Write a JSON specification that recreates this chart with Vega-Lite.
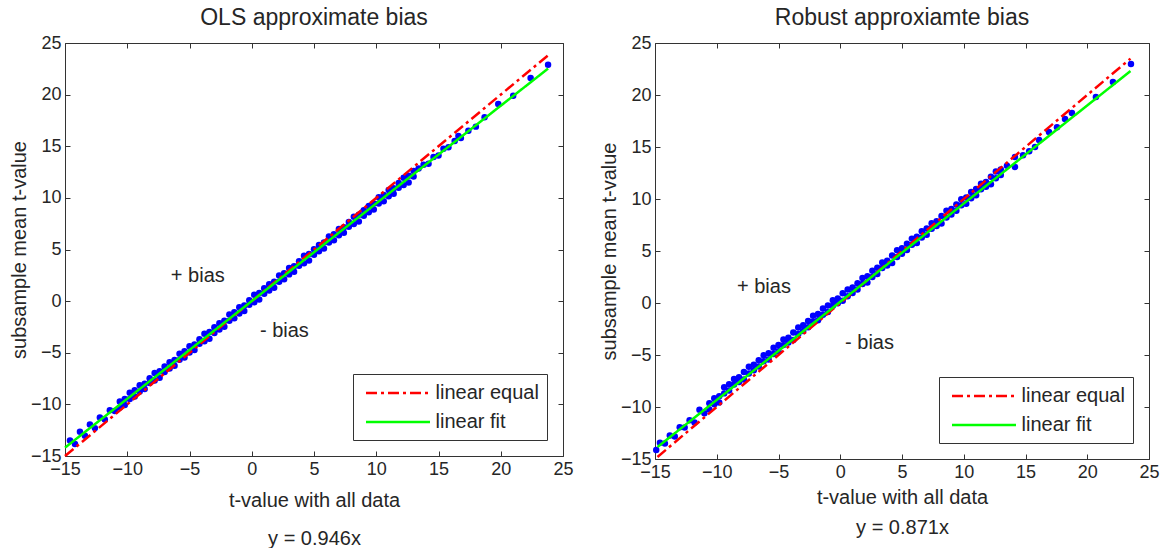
{
  "$schema": "https://vega.github.io/schema/vega-lite/v6.json",
  "background": "white",
  "padding": {"left": 9, "top": 7, "right": 0, "bottom": 0},
  "config": {
    "font": "Liberation Sans",
    "view": {"stroke": null},
    "axis": {
      "grid": false,
      "domainColor": "#333333",
      "tickColor": "#333333",
      "domainWidth": 1,
      "tickWidth": 1,
      "tickSize": -5,
      "labelPadding": 9,
      "labelFont": "Liberation Sans",
      "labelFontSize": 18,
      "labelColor": "#262626",
      "labelFlush": false,
      "labelOverlap": false,
      "titleFont": "Liberation Sans",
      "titleFontSize": 20,
      "titleFontWeight": "normal",
      "titleColor": "#262626"
    },
    "title": {"font": "Liberation Sans", "fontSize": 23, "fontWeight": "normal", "color": "#262626", "offset": 4},
    "legend": {
      "orient": "bottom-right",
      "offset": 16,
      "symbolType": "M-3.2,0H3.2",
      "symbolSize": 400,
      "symbolOffset": 26,
      "symbolStrokeWidth": 2.5,
      "labelFont": "Liberation Sans",
      "labelFontSize": 20,
      "labelColor": "#262626",
      "labelOffset": 26,
      "strokeColor": "#333333",
      "fillColor": "#ffffff",
      "padding": 7.5,
      "rowPadding": 7
    }
  },
  "datasets": {
    "ptsL": [
      {"x":-14.6,"y":-13.49},{"x":-14.2,"y":-13.83},{"x":-13.8,"y":-12.65},{"x":-13.4,"y":-13.03},{"x":-13.0,"y":-11.94},{"x":-12.6,"y":-12.30},{"x":-12.2,"y":-11.26},{"x":-11.8,"y":-11.46},{"x":-11.4,"y":-10.56},{"x":-11.0,"y":-10.65},
      {"x":-10.6,"y":-9.71},{"x":-10.6,"y":-10.31},{"x":-10.2,"y":-9.47},{"x":-10.2,"y":-10.05},{"x":-9.8,"y":-8.87},{"x":-9.8,"y":-9.47},{"x":-9.4,"y":-8.64},{"x":-9.4,"y":-9.24},{"x":-9.0,"y":-8.15},{"x":-9.0,"y":-8.76},
      {"x":-8.6,"y":-7.99},{"x":-8.6,"y":-8.52},{"x":-8.2,"y":-7.48},{"x":-8.2,"y":-7.93},{"x":-7.8,"y":-6.96},{"x":-7.8,"y":-7.68},{"x":-7.4,"y":-6.78},{"x":-7.4,"y":-7.42},{"x":-7.0,"y":-6.32},{"x":-7.0,"y":-6.86},
      {"x":-6.6,"y":-5.92},{"x":-6.6,"y":-6.52},{"x":-6.2,"y":-5.69},{"x":-6.2,"y":-6.27},{"x":-5.8,"y":-5.09},{"x":-5.8,"y":-5.69},{"x":-5.4,"y":-4.86},{"x":-5.4,"y":-5.46},{"x":-5.0,"y":-4.37},{"x":-5.0,"y":-4.98},
      {"x":-4.6,"y":-4.20},{"x":-4.6,"y":-4.73},{"x":-4.2,"y":-3.69},{"x":-4.2,"y":-4.14},{"x":-3.8,"y":-3.17},{"x":-3.8,"y":-3.89},{"x":-3.4,"y":-3.00},{"x":-3.4,"y":-3.64},{"x":-3.0,"y":-2.54},{"x":-3.0,"y":-3.08},
      {"x":-2.6,"y":-2.14},{"x":-2.6,"y":-2.74},{"x":-2.2,"y":-1.90},{"x":-2.2,"y":-2.48},{"x":-1.8,"y":-1.30},{"x":-1.8,"y":-1.90},{"x":-1.4,"y":-1.07},{"x":-1.4,"y":-1.67},{"x":-1.0,"y":-0.59},{"x":-1.0,"y":-1.20},
      {"x":-0.6,"y":-0.42},{"x":-0.6,"y":-0.95},{"x":-0.2,"y":0.09},{"x":-0.2,"y":-0.36},{"x":0.2,"y":0.61},{"x":0.2,"y":-0.11},{"x":0.6,"y":0.79},{"x":0.6,"y":0.15},{"x":1.0,"y":1.25},{"x":1.0,"y":0.71},
      {"x":1.4,"y":1.64},{"x":1.4,"y":1.04},{"x":1.8,"y":1.88},{"x":1.8,"y":1.30},{"x":2.2,"y":2.48},{"x":2.2,"y":1.88},{"x":2.6,"y":2.71},{"x":2.6,"y":2.11},{"x":3.0,"y":3.20},{"x":3.0,"y":2.59},
      {"x":3.4,"y":3.37},{"x":3.4,"y":2.84},{"x":3.8,"y":3.87},{"x":3.8,"y":3.42},{"x":4.2,"y":4.39},{"x":4.2,"y":3.67},{"x":4.6,"y":4.57},{"x":4.6,"y":3.93},{"x":5.0,"y":5.03},{"x":5.0,"y":4.49},
      {"x":5.4,"y":5.43},{"x":5.4,"y":4.83},{"x":5.8,"y":5.67},{"x":5.8,"y":5.09},{"x":6.2,"y":6.27},{"x":6.2,"y":5.67},{"x":6.6,"y":6.49},{"x":6.6,"y":5.89},{"x":7.0,"y":6.98},{"x":7.0,"y":6.37},
      {"x":7.4,"y":7.15},{"x":7.4,"y":6.62},{"x":7.8,"y":7.66},{"x":7.8,"y":7.21},{"x":8.2,"y":8.18},{"x":8.2,"y":7.46},{"x":8.6,"y":8.36},{"x":8.6,"y":7.72},{"x":9.0,"y":8.81},{"x":9.0,"y":8.27},
      {"x":9.4,"y":9.21},{"x":9.4,"y":8.61},{"x":9.8,"y":9.45},{"x":9.8,"y":8.87},{"x":10.2,"y":10.05},{"x":10.2,"y":9.45},{"x":10.6,"y":10.28},{"x":10.6,"y":9.68},{"x":11.0,"y":10.77},{"x":11.0,"y":10.16},
      {"x":11.4,"y":10.93},{"x":11.4,"y":10.40},{"x":11.8,"y":11.44},{"x":11.8,"y":10.99},{"x":12.2,"y":11.96},{"x":12.2,"y":11.24},{"x":12.6,"y":12.14},{"x":12.6,"y":11.50},{"x":13.0,"y":12.60},{"x":13.0,"y":12.06},
      {"x":13.4,"y":12.85},{"x":13.8,"y":13.2},{"x":14.2,"y":13.3},{"x":14.6,"y":13.95},{"x":15.0,"y":14.1},{"x":15.4,"y":14.75},{"x":15.8,"y":14.9},{"x":16.3,"y":15.5},{"x":16.6,"y":16.0},{"x":16.8,"y":15.8},
      {"x":17.4,"y":16.5},{"x":18.0,"y":16.9},{"x":18.7,"y":17.8},{"x":19.8,"y":19.1},{"x":21.0,"y":19.9},{"x":22.4,"y":21.6},{"x":23.8,"y":22.9}
    ],
    "ptsR": [
      {"x":-14.9,"y":-14.13},{"x":-14.6,"y":-13.43},{"x":-14.2,"y":-13.51},{"x":-13.8,"y":-12.75},{"x":-13.4,"y":-12.83},{"x":-13.0,"y":-11.95},{"x":-12.6,"y":-11.97},{"x":-12.2,"y":-11.27},{"x":-11.8,"y":-11.48},{"x":-11.4,"y":-10.26},{"x":-11.0,"y":-10.61},
      {"x":-10.6,"y":-9.65},{"x":-10.6,"y":-10.25},{"x":-10.2,"y":-9.15},{"x":-10.2,"y":-9.73},{"x":-9.8,"y":-8.97},{"x":-9.8,"y":-9.57},{"x":-9.4,"y":-8.09},{"x":-9.4,"y":-8.69},{"x":-9.0,"y":-7.81},{"x":-9.0,"y":-8.42},
      {"x":-8.6,"y":-7.31},{"x":-8.6,"y":-7.84},{"x":-8.2,"y":-7.14},{"x":-8.2,"y":-7.59},{"x":-7.8,"y":-6.63},{"x":-7.8,"y":-7.35},{"x":-7.4,"y":-6.13},{"x":-7.4,"y":-6.77},{"x":-7.0,"y":-5.93},{"x":-7.0,"y":-6.47},
      {"x":-6.6,"y":-5.51},{"x":-6.6,"y":-6.11},{"x":-6.2,"y":-5.02},{"x":-6.2,"y":-5.60},{"x":-5.8,"y":-4.84},{"x":-5.8,"y":-5.44},{"x":-5.4,"y":-4.31},{"x":-5.4,"y":-4.91},{"x":-5.0,"y":-4.03},{"x":-5.0,"y":-4.64},
      {"x":-4.6,"y":-3.52},{"x":-4.6,"y":-4.05},{"x":-4.2,"y":-3.35},{"x":-4.2,"y":-3.80},{"x":-3.8,"y":-2.84},{"x":-3.8,"y":-3.56},{"x":-3.4,"y":-2.35},{"x":-3.4,"y":-2.99},{"x":-3.0,"y":-2.15},{"x":-3.0,"y":-2.69},
      {"x":-2.6,"y":-1.73},{"x":-2.6,"y":-2.33},{"x":-2.2,"y":-1.23},{"x":-2.2,"y":-1.81},{"x":-1.8,"y":-1.05},{"x":-1.8,"y":-1.65},{"x":-1.4,"y":-0.52},{"x":-1.4,"y":-1.12},{"x":-1.0,"y":-0.25},{"x":-1.0,"y":-0.86},
      {"x":-0.6,"y":0.26},{"x":-0.6,"y":-0.27},{"x":-0.2,"y":0.43},{"x":-0.2,"y":-0.02},{"x":0.2,"y":0.94},{"x":0.2,"y":0.22},{"x":0.6,"y":1.29},{"x":0.6,"y":0.65},{"x":1.0,"y":1.49},{"x":1.0,"y":0.95},
      {"x":1.4,"y":1.90},{"x":1.4,"y":1.30},{"x":1.8,"y":2.40},{"x":1.8,"y":1.82},{"x":2.2,"y":2.58},{"x":2.2,"y":1.98},{"x":2.6,"y":3.11},{"x":2.6,"y":2.51},{"x":3.0,"y":3.39},{"x":3.0,"y":2.78},
      {"x":3.4,"y":3.90},{"x":3.4,"y":3.37},{"x":3.8,"y":4.06},{"x":3.8,"y":3.61},{"x":4.2,"y":4.57},{"x":4.2,"y":3.85},{"x":4.6,"y":5.07},{"x":4.6,"y":4.43},{"x":5.0,"y":5.27},{"x":5.0,"y":4.73},
      {"x":5.4,"y":5.69},{"x":5.4,"y":5.09},{"x":5.8,"y":6.19},{"x":5.8,"y":5.61},{"x":6.2,"y":6.37},{"x":6.2,"y":5.77},{"x":6.6,"y":6.89},{"x":6.6,"y":6.29},{"x":7.0,"y":7.17},{"x":7.0,"y":6.56},
      {"x":7.4,"y":7.68},{"x":7.4,"y":7.15},{"x":7.8,"y":7.85},{"x":7.8,"y":7.40},{"x":8.2,"y":8.36},{"x":8.2,"y":7.64},{"x":8.6,"y":8.86},{"x":8.6,"y":8.22},{"x":9.0,"y":9.05},{"x":9.0,"y":8.51},
      {"x":9.4,"y":9.47},{"x":9.4,"y":8.87},{"x":9.8,"y":9.97},{"x":9.8,"y":9.39},{"x":10.2,"y":10.15},{"x":10.2,"y":9.55},{"x":10.6,"y":10.68},{"x":10.6,"y":10.08},{"x":11.0,"y":10.96},{"x":11.0,"y":10.35},
      {"x":11.4,"y":11.46},{"x":11.4,"y":10.93},{"x":11.8,"y":11.63},{"x":11.8,"y":11.18},{"x":12.2,"y":12.14},{"x":12.2,"y":11.42},{"x":12.6,"y":12.64},{"x":12.6,"y":12.00},{"x":13.0,"y":12.84},{"x":13.0,"y":12.30},
      {"x":13.5,"y":13.2},{"x":14.15,"y":14.04},{"x":14.15,"y":13.08},{"x":14.8,"y":14.2},{"x":15.3,"y":14.6},{"x":15.77,"y":15.0},{"x":16.1,"y":15.67},{"x":16.9,"y":16.44},{"x":17.55,"y":16.9},{"x":18.2,"y":17.7},
      {"x":18.76,"y":18.27},{"x":20.7,"y":19.8},{"x":22.08,"y":21.25},{"x":23.54,"y":22.98}
    ],
    "linesL": [
      {"series":"linear equal","x":-15,"y":-15},{"series":"linear equal","x":23.9,"y":23.9},
      {"series":"linear fit","x":-15,"y":-14.19},{"series":"linear fit","x":23.8,"y":22.52}
    ],
    "linesR": [
      {"series":"linear equal","x":-14.8,"y":-14.8},{"series":"linear equal","x":23.5,"y":23.5},
      {"series":"linear fit","x":-14.8,"y":-13.85},{"series":"linear fit","x":23.5,"y":22.3}
    ],
    "textL": [
      {"x":-6.5,"y":2.4,"label":"+ bias"},{"x":0.66,"y":-2.9,"label":"- bias"}
    ],
    "textR": [
      {"x":-8.36,"y":1.54,"label":"+ bias"},{"x":0.39,"y":-3.85,"label":"- bias"}
    ]
  },
  "spacing": 25,
  "resolve": {"scale": {"color": "independent", "strokeDash": "independent"}},
  "hconcat": [
    {
      "width": 498,
      "height": 413,
      "title": {"text": "OLS approximate bias"},
      "layer": [
        {
          "data": {"name": "ptsL"},
          "mark": {"type": "circle", "color": "#0000ff", "size": 42, "opacity": 1},
          "encoding": {
            "x": {"field": "x", "type": "quantitative", "scale": {"domain": [-15, 25], "nice": false, "zero": false},
                  "axis": {"orient": "bottom", "values": [-15,-10,-5,0,5,10,15,20,25], "title": ["t-value with all data", "y = 0.946x"], "titlePadding": 12, "titleLineHeight": 38}},
            "y": {"field": "y", "type": "quantitative", "scale": {"domain": [-15, 25], "nice": false, "zero": false},
                  "axis": {"orient": "left", "values": [-15,-10,-5,0,5,10,15,20,25], "title": "subsample mean t-value", "titlePadding": 1}}
          }
        },
        {
          "data": {"name": "linesL"},
          "mark": {"type": "line", "strokeWidth": 2.5},
          "encoding": {
            "x": {"field": "x", "type": "quantitative", "scale": {"domain": [-15, 25], "nice": false, "zero": false},
                  "axis": {"orient": "top", "values": [-15,-10,-5,0,5,10,15,20,25], "labels": false, "title": null}},
            "y": {"field": "y", "type": "quantitative", "scale": {"domain": [-15, 25], "nice": false, "zero": false},
                  "axis": {"orient": "right", "values": [-15,-10,-5,0,5,10,15,20,25], "labels": false, "title": null}},
            "color": {"field": "series", "type": "nominal", "scale": {"domain": ["linear equal", "linear fit"], "range": ["#ff0000", "#00ff00"]}, "legend": {"title": null}},
            "strokeDash": {"field": "series", "type": "nominal", "scale": {"domain": ["linear equal", "linear fit"], "range": [[11, 4, 3, 4], [1, 0]]}, "legend": {"title": null}}
          }
        },
        {
          "data": {"name": "textL"},
          "mark": {"type": "text", "align": "left", "baseline": "middle", "fontSize": 20, "color": "#262626", "font": "Liberation Sans"},
          "encoding": {
            "x": {"field": "x", "type": "quantitative", "axis": null},
            "y": {"field": "y", "type": "quantitative", "axis": null},
            "text": {"field": "label"}
          }
        }
      ]
    },
    {
      "width": 494,
      "height": 416,
      "title": {"text": "Robust approxiamte bias"},
      "layer": [
        {
          "data": {"name": "ptsR"},
          "mark": {"type": "circle", "color": "#0000ff", "size": 42, "opacity": 1},
          "encoding": {
            "x": {"field": "x", "type": "quantitative", "scale": {"domain": [-15, 25], "nice": false, "zero": false},
                  "axis": {"orient": "bottom", "values": [-15,-10,-5,0,5,10,15,20,25], "title": ["t-value with all data", "y = 0.871x"], "titlePadding": 6, "titleLineHeight": 30}},
            "y": {"field": "y", "type": "quantitative", "scale": {"domain": [-15, 25], "nice": false, "zero": false},
                  "axis": {"orient": "left", "values": [-15,-10,-5,0,5,10,15,20,25], "title": "subsample mean t-value", "titlePadding": 1}}
          }
        },
        {
          "data": {"name": "linesR"},
          "mark": {"type": "line", "strokeWidth": 2.5},
          "encoding": {
            "x": {"field": "x", "type": "quantitative", "scale": {"domain": [-15, 25], "nice": false, "zero": false},
                  "axis": {"orient": "top", "values": [-15,-10,-5,0,5,10,15,20,25], "labels": false, "title": null}},
            "y": {"field": "y", "type": "quantitative", "scale": {"domain": [-15, 25], "nice": false, "zero": false},
                  "axis": {"orient": "right", "values": [-15,-10,-5,0,5,10,15,20,25], "labels": false, "title": null}},
            "color": {"field": "series", "type": "nominal", "scale": {"domain": ["linear equal", "linear fit"], "range": ["#ff0000", "#00ff00"]}, "legend": {"title": null}},
            "strokeDash": {"field": "series", "type": "nominal", "scale": {"domain": ["linear equal", "linear fit"], "range": [[11, 4, 3, 4], [1, 0]]}, "legend": {"title": null}}
          }
        },
        {
          "data": {"name": "textR"},
          "mark": {"type": "text", "align": "left", "baseline": "middle", "fontSize": 20, "color": "#262626", "font": "Liberation Sans"},
          "encoding": {
            "x": {"field": "x", "type": "quantitative", "axis": null},
            "y": {"field": "y", "type": "quantitative", "axis": null},
            "text": {"field": "label"}
          }
        }
      ]
    }
  ]
}
